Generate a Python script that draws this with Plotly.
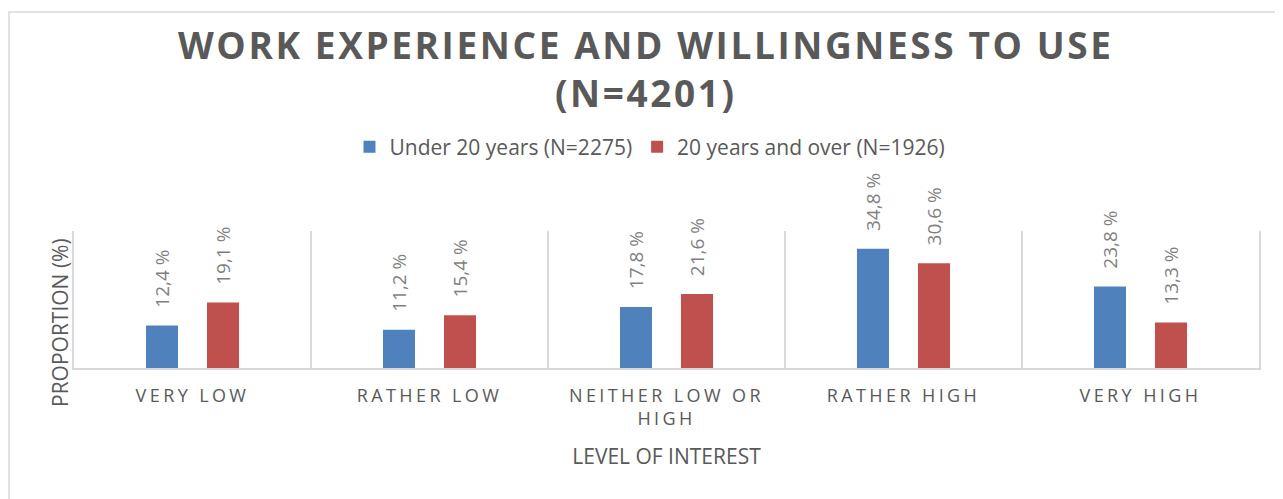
import plotly.graph_objects as go

categories = ["VERY LOW", "RATHER LOW", "NEITHER LOW OR<br>HIGH", "RATHER HIGH", "VERY HIGH"]
under20 = [12.4, 11.2, 17.8, 34.8, 23.8]
over20 = [19.1, 15.4, 21.6, 30.6, 13.3]
series_names = ["Under 20 years (N=2275)", "20 years and over (N=1926)"]
colors = ["#4F81BD", "#C0504D"]

# the page body adds an 8px margin; compensate so the picture lines up
OFF = 8
W, H = 1283 - OFF, 499 - OFF
PL, PR, PT, PB = 74, 1259, 231, 368  # plot area in page pixels
L, R, T, B = PL - OFF, W - (PR - OFF), PT - OFF, H - (PB - OFF)
PW, PH = PR - PL, PB - PT

def px_x(x):
    return (x - PL) / PW

def px_y(y):
    return (PB - y) / PH

LABEL_PAD = "\u00a0\u00a0\u00a0"  # visual gap between bar top and rotated label

def fmt(v):
    return LABEL_PAD + f"{v:.1f}".replace(".", ",") + " %"

def spaced(s, px):
    return "<br>".join(f"<span style='letter-spacing:{px}px'>{part}</span>" for part in s.split("<br>"))

fig = go.Figure()
for name, vals, col in zip(series_names, [under20, over20], colors):
    fig.add_trace(go.Bar(
        x=categories, y=vals, name=name,
        marker=dict(color=col, line=dict(width=0)),
        text=[fmt(v) for v in vals], textposition="outside", textangle=-90,
        constraintext="none", cliponaxis=False,
        textfont=dict(family="Open Sans", size=19, color="#7F7F7F"),
    ))

fig.update_layout(
    width=W, height=H,
    margin=dict(l=L, r=R, t=T, b=B),
    paper_bgcolor="white", plot_bgcolor="white",
    barmode="group", bargap=0.485, bargroupgap=0.475,
    font=dict(family="Open Sans", color="#595959"),
    showlegend=True,
    legend=dict(orientation="h", x=px_x(650), xanchor="center",
                y=px_y(147), yanchor="middle",
                font=dict(size=21, color="#595959"), itemwidth=30,
                bgcolor="rgba(0,0,0,0)"),
    xaxis=dict(
        type="category", tickson="boundaries", showgrid=True,
        gridcolor="#D9D9D9", gridwidth=1.5,
        showline=True, linecolor="#D9D9D9", linewidth=2,
        ticks="", tickfont=dict(size=18, color="#595959"), ticklabelstandoff=10,
        tickvals=categories, ticktext=[spaced(c, 3.4) for c in categories],
        title=dict(text="LEVEL OF INTEREST", font=dict(size=21, color="#595959"), standoff=20),
    ),
    yaxis=dict(
        range=[0, 40], showgrid=False, showticklabels=False, zeroline=False,
        showline=True, mirror=True, linecolor="#D9D9D9", linewidth=1.5, ticks="",
    ),
    annotations=[
        dict(text=spaced("WORK EXPERIENCE AND WILLINGNESS TO USE<br>(N=4201)", 2.6),
             xref="paper", yref="paper", x=px_x(646), y=px_y(68),
             xanchor="center", yanchor="middle", showarrow=False,
             font=dict(family="Open Sans", size=37, color="#595959", weight="bold")),
        dict(text="PROPORTION (%)", xref="paper", yref="paper",
             x=px_x(60), y=px_y(323), textangle=-90,
             xanchor="center", yanchor="middle", showarrow=False,
             font=dict(size=21, color="#595959")),
    ],
    shapes=[
        dict(type="rect", xref="paper", yref="paper",
             x0=px_x(9), x1=px_x(1300), y0=px_y(520), y1=px_y(12),
             line=dict(color="#D9D9D9", width=1.5), fillcolor="rgba(0,0,0,0)", layer="below"),
    ],
)

fig.write_html("out.html")
